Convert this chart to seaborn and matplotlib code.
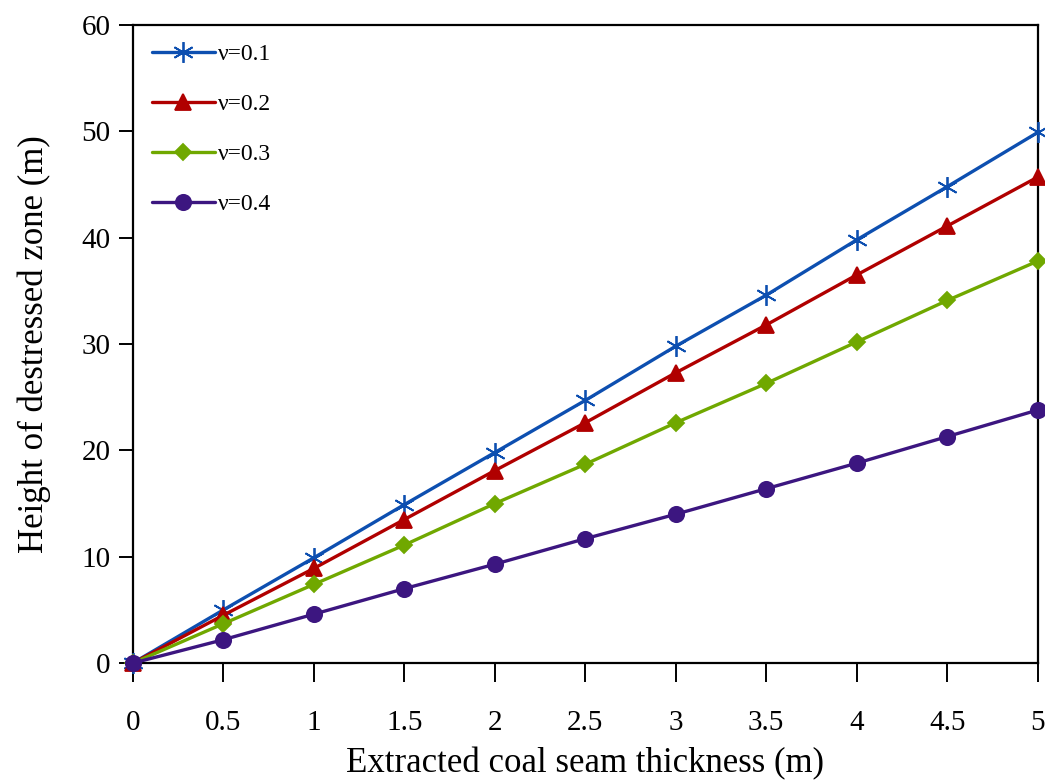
import numpy as np
import pandas as pd
import matplotlib
matplotlib.use("Agg")
import matplotlib.pyplot as plt
import seaborn as sns

thickness = [0, 0.5, 1, 1.5, 2, 2.5, 3, 3.5, 4, 4.5, 5]
v01 = [0, 5.0, 9.9, 14.9, 19.8, 24.7, 29.8, 34.6, 39.8, 44.8, 49.9]
v02 = [0, 4.5, 8.9, 13.5, 18.1, 22.6, 27.3, 31.8, 36.5, 41.1, 45.7]
v03 = [0, 3.7, 7.4, 11.1, 15.0, 18.7, 22.6, 26.3, 30.2, 34.1, 37.8]
v04 = [0, 2.2, 4.6, 7.0, 9.3, 11.7, 14.0, 16.4, 18.8, 21.3, 23.8]
labels = ["ν=0.1", "ν=0.2", "ν=0.3", "ν=0.4"]
series = [v01, v02, v03, v04]
y_ticks = [0, 10, 20, 30, 40, 50, 60]
x_ticks = thickness

df = pd.concat([pd.DataFrame({"x": thickness, "y": s, "nu": lab}) for lab, s in zip(labels, series)])

colors = {"ν=0.1": "#0d4fb0", "ν=0.2": "#b00000", "ν=0.3": "#70a800", "ν=0.4": "#3c1680"}
markers = {"ν=0.1": (6, 2, 0), "ν=0.2": "^", "ν=0.3": "D", "ν=0.4": "o"}
msizes = {"ν=0.1": 15, "ν=0.2": 11, "ν=0.3": 8, "ν=0.4": 11}

sns.set_style("ticks")
plt.rcParams["font.family"] = ["Liberation Serif", "DejaVu Serif"]
plt.rcParams["text.color"] = "black"
plt.rcParams["axes.labelcolor"] = "black"

fig = plt.figure(figsize=(10.45, 7.82), dpi=100)
ax = fig.add_axes([0.127, 0.152, 0.866, 0.816])

for lab in labels:
    sub = df[df["nu"] == lab]
    sns.lineplot(data=sub, x="x", y="y", ax=ax, color=colors[lab], marker=markers[lab],
                 markersize=msizes[lab], markeredgecolor=colors[lab], markeredgewidth=1.3,
                 linewidth=2.4, label=lab, clip_on=False, zorder=3)

ax.set_xlim(0, 5)
ax.set_ylim(0, 60)
ax.set_xticks(x_ticks)
ax.set_xticklabels([f"{t:g}" for t in x_ticks])
ax.set_yticks(y_ticks)
for s in ax.spines.values():
    s.set_color("black")
    s.set_linewidth(1.6)
ax.tick_params(axis="x", direction="out", length=14, width=1.4, pad=20, labelsize=21, colors="black")
ax.tick_params(axis="y", direction="out", length=10, width=1.4, pad=6, labelsize=21, colors="black")
ax.set_xlabel("Extracted coal seam thickness (m)", fontsize=25, labelpad=8, color="black")
ax.set_ylabel("Height of destressed zone (m)", fontsize=25, labelpad=22, color="black")

leg = ax.legend(loc="upper left", bbox_to_anchor=(0.0, 1.0), frameon=False, fontsize=17,
                handlelength=2.7, handletextpad=0.1, labelspacing=1.2, borderaxespad=0.4)
for t in leg.get_texts():
    t.set_color("black")

fig.savefig("out.png", dpi=100)
